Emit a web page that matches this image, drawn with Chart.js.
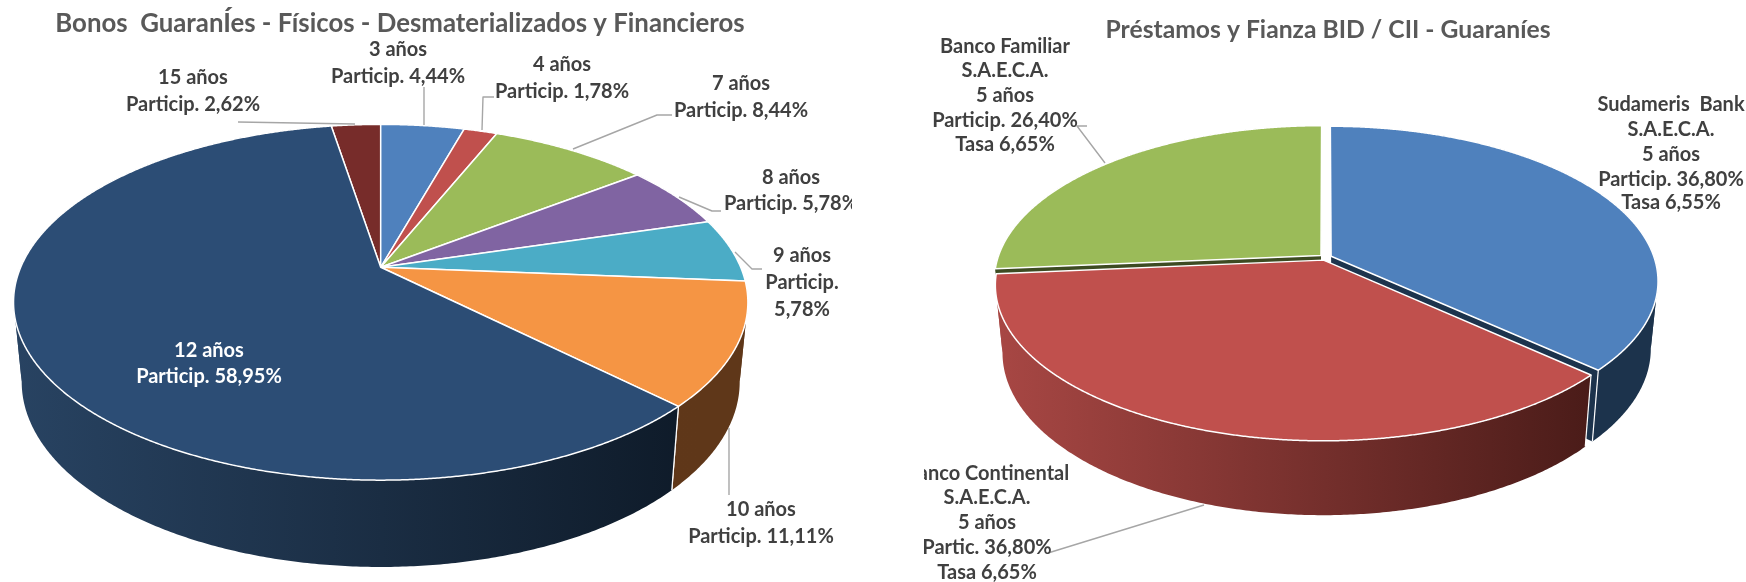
<!DOCTYPE html>
<html lang="es">
<head>
<meta charset="utf-8">
<title>Bonos y Préstamos</title>
<script src="https://cdn.jsdelivr.net/npm/chart.js@4/dist/chart.umd.js"></script>
<style>
html,body{margin:0;padding:0;background:#fff;width:1746px;height:582px;overflow:hidden}
canvas{position:absolute;top:0;display:block}
#bonos{left:0}
#prestamos{left:924px}
</style>
</head>
<body>
<canvas id="bonos" width="852" height="582"></canvas>
<canvas id="prestamos" width="822" height="582"></canvas>
<script>
const bonosTitle = 'Bonos  GuaranÍes - Físicos - Desmaterializados y Financieros';
const bonosPlazos = ['3 años','4 años','7 años','8 años','9 años','10 años','12 años','15 años'];
// Slice shares as drawn in the picture: the 12 años slice fills the rest of the pie (about 59,95%),
// while its printed label reads 58,95%.
const bonosParticip = [4.44,1.78,8.44,5.78,5.78,11.11,59.95,2.62];
const bonosEtiquetas = ['4,44%','1,78%','8,44%','5,78%','5,78%','11,11%','58,95%','2,62%'];
const bonosColors = ['#4f81bd','#c0504d','#9bbb59','#8064a2','#4bacc6','#f59544','#2c4d75','#772c2a'];

const prestamosTitle = 'Préstamos y Fianza BID / CII - Guaraníes';
const prestamosBancos = ['Sudameris  Bank','Banco Continental','Banco Familiar'];
const prestamosParticip = [36.80,36.80,26.40];
const prestamosEtiquetas = ['36,80%','36,80%','26,40%'];
const prestamosTasas = ['6,55%','6,65%','6,65%'];
const prestamosColors = ['#4f81bd','#c0504d','#9bbb59'];

const FONT = 'Lato,"Liberation Sans",sans-serif';

const bonosGeom = {left:0, cx:380.7, k:.1966, R:360, a:171, hy:267.3, R2:352, a2:178, hy2:345.4, explode:0,
  sides:[['#2d4d75','#2d4d75'],['#6e2d2b','#6e2d2b'],['#5a7032','#5a7032'],['#4c3c61','#4c3c61'],['#2d6776','#2d6776'],['#663b1c','#5f3719'],['#284362','#0e1a28'],['#4a1c1a','#4a1c1a']],
  grad:[14,700]};
const prestamosGeom = {left:924, cx:1325.5, k:.159, R:323, a:151, hy:257.4, R2:316, a2:157.4, hy2:324, explode:.019,
  sides:[['#1e3650','#1c334c'],['#a84744','#491b18'],['#3d4b22','#3d4b22']],
  grad:[994,1600]};

const bonosLabels = [
  {cx:398, ys:[50,77], lines:[bonosPlazos[0],'Particip. '+bonosEtiquetas[0]]},
  {cx:562, ys:[65,92], lines:[bonosPlazos[1],'Particip. '+bonosEtiquetas[1]]},
  {cx:741, ys:[84,111], lines:[bonosPlazos[2],'Particip. '+bonosEtiquetas[2]]},
  {cx:791, ys:[178,204], lines:[bonosPlazos[3],'Particip. '+bonosEtiquetas[3]]},
  {cx:802, ys:[256,283,310], lines:[bonosPlazos[4],'Particip.',bonosEtiquetas[4]]},
  {cx:761, ys:[510,537], lines:[bonosPlazos[5],'Particip. '+bonosEtiquetas[5]]},
  {cx:209, ys:[351,377], color:'#ffffff', lines:[bonosPlazos[6],'Particip. '+bonosEtiquetas[6]]},
  {cx:193, ys:[78,105], lines:[bonosPlazos[7],'Particip. '+bonosEtiquetas[7]]}
];
const bonosLeaders = [
  [[238,122],[355,124]],
  [[424,87],[424,125]],
  [[494,97],[483,97],[482,130]],
  [[672,115],[657,115],[573,149]],
  [[721,211],[712,211],[679,197]],
  [[762,269],[752,269],[735,252]],
  [[729,428],[729,495]]
];
const prestamosLabels = [
  {cx:1671, ys:[105,130,155,180,203], lines:[prestamosBancos[0],'S.A.E.C.A.','5 años','Particip. '+prestamosEtiquetas[0],'Tasa '+prestamosTasas[0]]},
  {cx:987, ys:[474,498,523,548,573], lines:[prestamosBancos[1],'S.A.E.C.A.','5 años','Partic. '+prestamosEtiquetas[1],'Tasa '+prestamosTasas[1]]},
  {cx:1005, ys:[47,71,96,121,145], lines:[prestamosBancos[2],'S.A.E.C.A.','5 años','Particip. '+prestamosEtiquetas[2],'Tasa '+prestamosTasas[2]]}
];
const prestamosLeaders = [
  [[1087,126],[1077,126],[1105,163]],
  [[1204,505],[1048,553]]
];

function pie3d(geom, labels, leaders){
  return {
    id:'pie3d',
    beforeDatasetsDraw(chart){
      const ctx = chart.ctx, g = geom, arcs = chart.getDatasetMeta(0).data;
      const N = 2*Math.PI/720;
      ctx.save();
      ctx.translate(-g.left,0);
      const items = arcs.map((arc,i)=>({arc,i,mid:(arc.startAngle+arc.endAngle)/2}))
        .sort((p,q)=>Math.sin(p.mid)-Math.sin(q.mid));
      for(const it of items){
        const {arc,i,mid} = it;
        const eu = g.explode*Math.cos(mid), ev = g.explode*Math.sin(mid);
        const top = (u,v)=>{const w=1/(1-g.k*(v+ev));return {x:g.cx+g.R*(u+eu)*w,y:g.hy+g.a*(v+ev)*w};};
        const bot = (u,v)=>{const w=1/(1-g.k*(v+ev));return {x:g.cx+g.R2*(u+eu)*w,y:g.hy2+g.a2*(v+ev)*w};};
        const T = t=>top(Math.cos(t),Math.sin(t)), B = t=>bot(Math.cos(t),Math.sin(t));
        const grad = ctx.createLinearGradient(g.grad[0],0,g.grad[1],0);
        grad.addColorStop(0,g.sides[i][0]);
        grad.addColorStop(1,g.sides[i][1]);
        // radial cut faces of an exploded slice
        if(g.explode>0){
          const wall=(t)=>{
            const p=top(0,0),q=T(t),r=B(t),s=bot(0,0);
            ctx.beginPath();ctx.moveTo(p.x,p.y);ctx.lineTo(q.x,q.y);ctx.lineTo(r.x,r.y);ctx.lineTo(s.x,s.y);ctx.closePath();
            ctx.fillStyle=grad;ctx.fill();
          };
          if(-Math.cos(arc.startAngle)>0.02) wall(arc.startAngle);
          if(Math.cos(arc.endAngle)>0.02) wall(arc.endAngle);
        }
        // outer rim: split at the silhouette so each band is a simple polygon
        const fold = Math.asin(g.k);
        const cuts = [arc.startAngle];
        for(const c of [fold, Math.PI-fold, fold+2*Math.PI, -Math.PI-fold]){
          if(c>arc.startAngle && c<arc.endAngle) cuts.push(c);
        }
        cuts.sort((p,q)=>p-q);cuts.push(arc.endAngle);
        const bands=[];
        for(let c=0;c<cuts.length-1;c++) bands.push([cuts[c],cuts[c+1]]);
        bands.sort((p,q)=>Math.sin((p[0]+p[1])/2)-Math.sin((q[0]+q[1])/2));
        ctx.fillStyle=grad;
        for(const [t0,t1] of bands){
          ctx.beginPath();
          let p=T(t0);ctx.moveTo(p.x,p.y);
          for(let t=t0;t<t1;t+=N){p=T(t);ctx.lineTo(p.x,p.y);}
          p=T(t1);ctx.lineTo(p.x,p.y);
          p=B(t1);ctx.lineTo(p.x,p.y);
          for(let t=t1;t>t0;t-=N){p=B(t);ctx.lineTo(p.x,p.y);}
          p=B(t0);ctx.lineTo(p.x,p.y);
          ctx.closePath();ctx.fill();
        }
        // white edges where a slice boundary runs down the visible side
        ctx.strokeStyle='#ffffff';ctx.lineWidth=1.2;
        for(const t of [arc.startAngle,arc.endAngle]){
          if(Math.sin(t)>g.k+.05){
            const p=T(t),r=B(t);
            ctx.beginPath();ctx.moveTo(p.x,p.y);ctx.lineTo(r.x,r.y);ctx.stroke();
          }
        }
        // top face
        const h=top(0,0);
        ctx.beginPath();ctx.moveTo(h.x,h.y);
        for(let t=arc.startAngle;t<arc.endAngle;t+=N/2){const p=T(t);ctx.lineTo(p.x,p.y);}
        const e=T(arc.endAngle);ctx.lineTo(e.x,e.y);ctx.closePath();
        ctx.fillStyle=arc.options.backgroundColor;ctx.fill();
        ctx.strokeStyle='#ffffff';ctx.lineWidth=1.5;ctx.lineJoin='round';ctx.stroke();
      }
      // leader lines
      ctx.strokeStyle='#a6a6a6';ctx.lineWidth=1.4;
      for(const l of leaders){
        ctx.beginPath();
        l.forEach((p,j)=>j?ctx.lineTo(p[0],p[1]):ctx.moveTo(p[0],p[1]));
        ctx.stroke();
      }
      // data labels
      ctx.font='bold 20px '+FONT;ctx.textAlign='center';ctx.textBaseline='middle';
      for(const lab of labels){
        ctx.fillStyle=lab.color||'#404040';
        lab.lines.forEach((s,j)=>ctx.fillText(s,lab.cx,lab.ys[j]));
      }
      ctx.restore();
      return false;
    }
  };
}

function makeChart(id,cats,vals,colors,title,titleSize,padTop,padRight,plugin){
  return new Chart(document.getElementById(id),{
    type:'pie',
    data:{labels:cats,datasets:[{data:vals,backgroundColor:colors,borderColor:'#ffffff',borderWidth:1.5}]},
    options:{
      responsive:false,animation:false,
      layout:{padding:{top:padTop,right:padRight}},
      plugins:{
        legend:{display:false},tooltip:{enabled:false},
        title:{display:true,text:title,color:'#595959',font:{family:FONT,size:titleSize,weight:'bold'},padding:0}
      }
    },
    plugins:[plugin]
  });
}
makeChart('bonos',bonosPlazos,bonosParticip,bonosColors,bonosTitle,25.8,8,52,pie3d(bonosGeom,bonosLabels,bonosLeaders));
makeChart('prestamos',prestamosBancos,prestamosParticip,prestamosColors,prestamosTitle,24.7,15,14,pie3d(prestamosGeom,prestamosLabels,prestamosLeaders));
</script>
</body>
</html>
